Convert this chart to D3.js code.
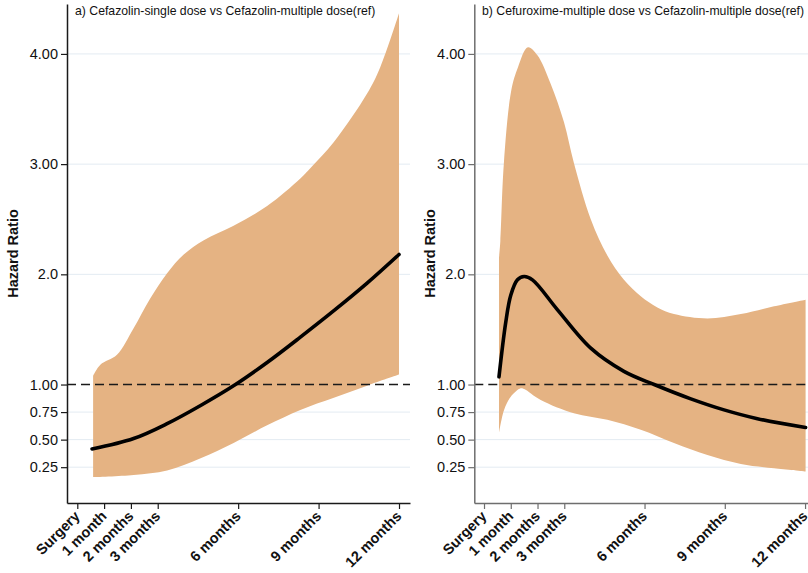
<!DOCTYPE html>
<html><head><meta charset="utf-8">
<script src="https://cdn.jsdelivr.net/npm/d3@7"></script>
<style>body{margin:0;background:#fff;}svg{display:block;font-family:"Liberation Sans",Arial,sans-serif;}</style>
</head><body><svg id="c" width="808" height="573"></svg>
<script>
// ---- data ----
const xTickValues = [0, 1, 2, 3, 6, 9, 12];
const xTickLabels = ["Surgery", "1 month", "2 months", "3 months", "6 months", "9 months", "12 months"];
const yTickValues = [0.25, 0.5, 0.75, 1, 2, 3, 4];
const yTickLabels = ["0.25", "0.50", "0.75", "1.00", "2.0", "3.00", "4.00"];
const titles = ["a) Cefazolin-single dose vs Cefazolin-multiple dose(ref)",
                "b) Cefuroxime-multiple dose vs Cefazolin-multiple dose(ref)"];
const yTitle = "Hazard Ratio";

// panel a
const aHrT   = [0.55, 2.1, 3.35, 4.6, 5.9, 7.08, 8.32, 9.57, 10.81, 12.0];
const aHr    = [0.415, 0.51, 0.645, 0.81, 1.0, 1.2, 1.43, 1.67, 1.92, 2.18];
const aLoT   = [0.59, 2.1, 3.35, 4.6, 5.83, 7.08, 8.32, 9.57, 10.81, 12.0];
const aLo    = [0.16, 0.18, 0.22, 0.33, 0.47, 0.63, 0.77, 0.88, 0.99, 1.09];
const aHiT   = [0.59, 0.86, 1.48, 2.1, 2.72, 3.35, 3.97, 4.72, 5.83, 7.08, 8.32, 8.76, 9.57, 10.81, 11.3, 12.0];
const aHi    = [1.08, 1.18, 1.27, 1.51, 1.78, 2.01, 2.18, 2.31, 2.44, 2.62, 2.87, 2.98, 3.2, 3.64, 3.88, 4.37];

// panel b
const bHrT   = [0.56, 0.81, 1.0, 1.25, 1.5, 1.81, 2.74, 3.99, 5.23, 6.36, 7.73, 8.97, 10.22, 12.02];
const bHr    = [1.07, 1.56, 1.81, 1.95, 1.98, 1.95, 1.68, 1.33, 1.12, 1.0, 0.87, 0.77, 0.69, 0.61];
const bLoT   = [0.56, 0.75, 1.0, 1.37, 1.5, 2.12, 3.36, 4.61, 5.86, 7.1, 8.35, 9.6, 10.84, 12.02];
const bLo    = [0.56, 0.77, 0.89, 0.966, 0.96, 0.86, 0.74, 0.68, 0.59, 0.47, 0.36, 0.28, 0.24, 0.21];
const bHiT   = [0.56, 0.61, 0.74, 1.02, 1.27, 1.64, 1.99, 2.49, 2.99, 3.36, 3.99, 4.61, 5.23, 5.86, 6.48, 7.1, 8.35, 9.6, 10.84, 12.02];
const bHi    = [2.15, 2.3, 3.0, 3.67, 3.88, 4.06, 3.99, 3.73, 3.38, 3.01, 2.50, 2.17, 1.95, 1.80, 1.70, 1.64, 1.60, 1.64, 1.71, 1.77];

const panels = [
  {title: titles[0], hrT: aHrT, hr: aHr, loT: aLoT, lo: aLo, hiT: aHiT, hi: aHi,
   xDom: [-0.384, 12.41], xRange: [67, 410], axisColor: "#1a1a1a", titleX: 75, yTitleX: 13},
  {title: titles[1], hrT: bHrT, hr: bHr, loT: bLoT, lo: bLo, hiT: bHiT, hi: bHi,
   xDom: [-0.363, 12.11], xRange: [474.3, 808], axisColor: "#6e6e6e", titleX: 482, yTitleX: 430}
];

const svg = d3.select("#c");
const yDom = [-0.075, 4.453];
const yRange = [503, 4];
const fill = "#e5b383";

panels.forEach(p => {
  const x = d3.scaleLinear().domain(p.xDom).range(p.xRange);
  const y = d3.scaleLinear().domain(yDom).range(yRange);
  const g = svg.append("g");

  // gridlines
  g.append("g").selectAll("line").data(yTickValues.filter(v => v !== 1)).join("line")
    .attr("x1", p.xRange[0]).attr("x2", p.xRange[1])
    .attr("y1", d => y(d)).attr("y2", d => y(d))
    .attr("stroke", "#e3ebf2").attr("stroke-width", 1);

  const lineGen = d3.line().x(d => x(d[0])).y(d => y(d[1])).curve(d3.curveCatmullRom.alpha(0.5));
  const upper = p.hiT.map((t, i) => [t, p.hi[i]]);
  const lowerRev = p.loT.map((t, i) => [t, p.lo[i]]).reverse();
  const upPath = lineGen(upper);
  const loPathRev = lineGen(lowerRev);
  g.append("path")
    .attr("d", upPath + "L" + loPathRev.slice(1) + "Z")
    .attr("fill", fill).attr("stroke", "none");

  // reference line at 1
  g.append("line").attr("x1", p.xRange[0]).attr("x2", p.xRange[1])
    .attr("y1", y(1)).attr("y2", y(1))
    .attr("stroke", "#1a1a1a").attr("stroke-width", 1.5).attr("stroke-dasharray", "9,5");

  // HR line
  g.append("path").datum(p.hrT.map((t, i) => [t, p.hr[i]]))
    .attr("d", lineGen).attr("fill", "none").attr("stroke", "#000")
    .attr("stroke-width", 3.6).attr("stroke-linecap", "round");

  // y axis
  const yAxis = d3.axisLeft(y).tickValues(yTickValues)
    .tickFormat((d, i) => yTickLabels[i]).tickSize(6).tickPadding(3).tickSizeOuter(0);
  const ya = g.append("g").attr("transform", `translate(${p.xRange[0]},0)`).call(yAxis);
  ya.select(".domain").attr("stroke", p.axisColor).attr("stroke-width", 1.5);
  ya.selectAll(".tick line").attr("stroke", p.axisColor).attr("stroke-width", 1.2);
  ya.selectAll(".tick text").attr("font-size", 14.5).attr("fill", "#111")
    .attr("font-family", '"Liberation Sans", Arial, sans-serif');

  // x axis
  const xAxis = d3.axisBottom(x).tickValues(xTickValues)
    .tickFormat((d, i) => xTickLabels[i]).tickSize(6).tickSizeOuter(0);
  const xa = g.append("g").attr("transform", `translate(0,${yRange[0]})`).call(xAxis);
  xa.select(".domain").attr("stroke", p.axisColor).attr("stroke-width", 1.5);
  xa.selectAll(".tick line").attr("stroke", p.axisColor).attr("stroke-width", 1.2);
  xa.selectAll(".tick text")
    .attr("font-size", 14.5).attr("font-weight", "bold").attr("fill", "#111")
    .attr("font-family", '"Liberation Sans", Arial, sans-serif')
    .attr("text-anchor", "end").attr("y", 0).attr("dy", 0)
    .attr("transform", "translate(3,14) rotate(-45)");

  // y title
  g.append("text").attr("transform", `translate(${p.yTitleX + 5},${(yRange[0] + yRange[1]) / 2}) rotate(-90)`)
    .attr("text-anchor", "middle").attr("font-size", 14.5).attr("font-weight", "bold")
    .attr("fill", "#111").text(yTitle);

  // panel title
  g.append("text").attr("x", p.titleX).attr("y", 15).attr("font-size", 12.25)
    .attr("fill", "#111").text(p.title);
});
</script></body></html>
